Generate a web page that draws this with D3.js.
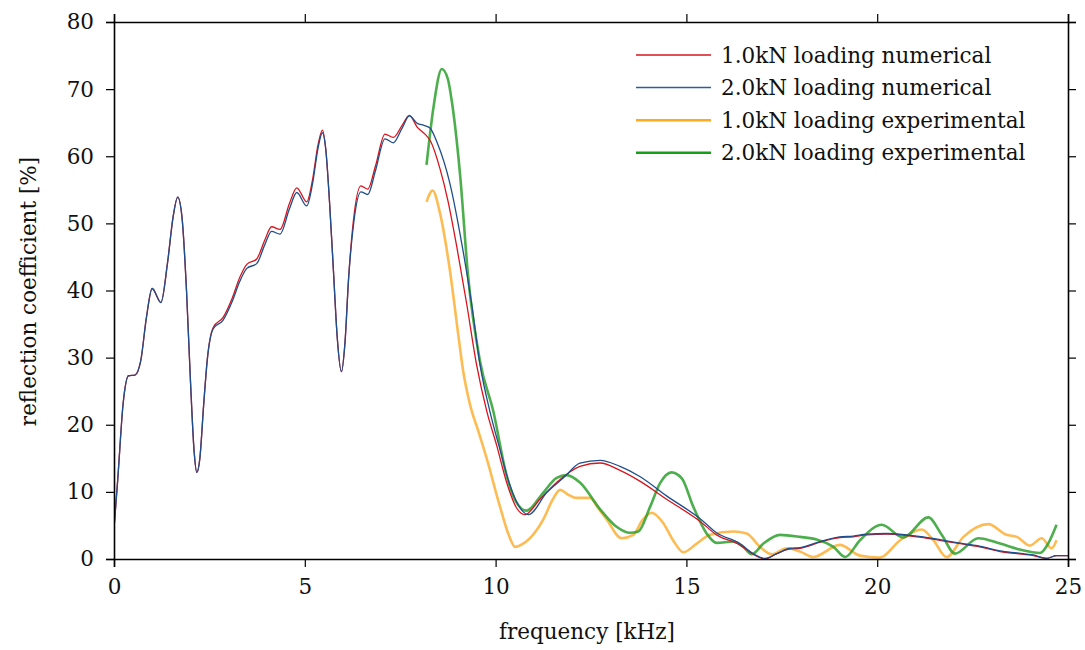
<!DOCTYPE html>
<html><head><meta charset="utf-8">
<script src="https://cdn.jsdelivr.net/npm/d3@7"></script>
<style>body{margin:0;background:#fff}svg{display:block}</style>
</head><body>
<svg id="chart" width="1085" height="650"></svg>
<script>
const xTicks = [0, 5, 10, 15, 20, 25];
const yTicks = [0, 10, 20, 30, 40, 50, 60, 70, 80];
const seriesNames = ["1.0kN loading numerical", "2.0kN loading numerical", "1.0kN loading experimental", "2.0kN loading experimental"];

const num10 = [[0,4.5],[0.1,12],[0.24,23.2],[0.38,27.3],[0.55,27.4],[0.7,29.5],[0.85,36],[1.0,40.3],[1.23,38.2],[1.4,44],[1.55,51],[1.67,53.9],[1.78,51],[1.9,40],[2.0,27],[2.1,16],[2.17,12.9],[2.25,15],[2.35,23],[2.45,30],[2.6,34.5],[2.86,36],[3.1,38.9],[3.3,42],[3.48,43.9],[3.74,44.7],[3.95,47.5],[4.13,49.5],[4.35,49.1],[4.6,53],[4.79,55.3],[5.05,53.2],[5.2,56.4],[5.35,61.8],[5.46,63.9],[5.55,61],[5.65,53],[5.75,43],[5.85,33],[5.96,27.9],[6.05,32],[6.15,42],[6.27,50.2],[6.47,55.6],[6.65,55.1],[6.85,58.5],[7.1,63.3],[7.32,62.8],[7.55,64.6],[7.74,66.1],[7.95,64.3],[8.15,63.3],[8.3,62.2],[8.54,58.2],[8.75,53.4],[8.98,46.6],[9.24,38.1],[9.5,29.0],[9.77,22.0],[10.03,16.9],[10.29,11.4],[10.55,7.6],[10.77,6.6],[11.16,8.9],[11.6,11.4],[12.21,13.8],[12.74,14.3],[13.26,13.2],[13.78,11.6],[14.48,8.9],[15.36,5.6],[15.79,3.6],[16.4,2.1],[16.75,0.7],[17.06,0.0],[17.37,0.8],[17.72,1.5],[17.98,1.6],[18.5,2.5],[19.02,3.2],[19.37,3.3],[19.72,3.6],[20.25,3.7],[20.77,3.5],[21.21,3.2],[21.82,2.6],[22.26,2.2],[22.78,1.7],[23.22,1.1],[23.66,0.8],[24.09,0.5],[24.44,0.1],[24.7,0.5],[25,0.5]];

const num20 = [[0,4.5],[0.1,12],[0.24,23.2],[0.38,27.3],[0.55,27.4],[0.7,29.5],[0.85,36],[1.0,40.3],[1.23,38.2],[1.4,44],[1.55,51],[1.67,53.9],[1.78,51],[1.9,40],[2.0,27],[2.1,16],[2.17,12.9],[2.25,15],[2.35,23],[2.45,30],[2.6,34.3],[2.86,35.6],[3.1,38.4],[3.3,41.4],[3.48,43.3],[3.74,44.0],[3.95,46.8],[4.13,48.8],[4.35,48.4],[4.6,52.2],[4.79,54.6],[5.05,52.6],[5.2,55.8],[5.35,61.3],[5.46,63.5],[5.55,61],[5.65,53],[5.75,43],[5.85,33],[5.96,27.9],[6.05,32],[6.15,42],[6.27,49.5],[6.47,54.7],[6.65,54.3],[6.85,57.8],[7.1,62.6],[7.32,62.0],[7.55,64.2],[7.74,66.0],[7.95,64.9],[8.12,64.6],[8.28,64.2],[8.47,62.0],[8.8,56.0],[9.11,47.1],[9.37,38.1],[9.59,29.0],[9.85,22.0],[10.11,16.4],[10.38,10.9],[10.64,7.6],[10.86,6.6],[11.34,9.9],[11.8,12.2],[12.21,14.3],[12.74,14.7],[13.26,13.8],[13.78,12.3],[14.48,9.4],[15.36,6.0],[15.79,3.9],[16.4,2.3],[16.75,0.8],[17.06,0.1],[17.37,0.8],[17.72,1.6],[17.98,1.7],[18.5,2.6],[19.02,3.3],[19.37,3.4],[19.72,3.7],[20.25,3.8],[20.77,3.6],[21.21,3.3],[21.82,2.7],[22.26,2.3],[22.78,1.8],[23.22,1.2],[23.66,0.9],[24.09,0.6],[24.44,0.1],[24.7,0.5],[25,0.5]];

const exp10 = [[8.19,53.2],[8.35,54.9],[8.54,51.6],[8.8,43.1],[9.02,33.5],[9.15,28],[9.33,23.0],[9.55,19],[9.77,14.9],[10.11,7.9],[10.35,3.5],[10.51,1.8],[10.7,2.2],[10.9,3.1],[11.25,5.9],[11.5,8.9],[11.69,10.3],[11.9,9.6],[12.12,9.1],[12.47,9.1],[12.7,7.5],[12.91,5.9],[13.3,3.1],[13.61,3.6],[13.85,5.8],[14.09,6.9],[14.4,5.3],[14.65,2.8],[14.92,1.0],[15.27,2.3],[15.62,3.6],[16.23,4.1],[16.58,3.8],[16.93,1.8],[17.23,0.7],[17.63,1.6],[17.98,1.1],[18.33,0.3],[19.02,2.1],[19.55,0.5],[20.07,0.2],[20.6,2.8],[21.17,4.4],[21.47,2.8],[21.82,0.3],[22.26,3.3],[22.91,5.2],[23.39,3.6],[23.66,3.3],[24.0,2.0],[24.31,3.1],[24.57,1.6],[24.7,2.8]];

const exp20 = [[8.19,58.7],[8.37,67.2],[8.59,73.0],[8.75,71.5],[8.85,68.3],[9.07,57.2],[9.28,42.1],[9.59,29.5],[9.94,22.0],[10.29,12.4],[10.55,8.4],[10.81,7.2],[11.25,9.9],[11.6,12.1],[11.86,12.5],[12.21,11.4],[12.74,7.4],[13.17,4.8],[13.52,3.9],[13.74,4.1],[14.05,7.8],[14.31,11.3],[14.61,12.9],[14.88,12.0],[15.18,7.8],[15.53,3.8],[15.79,2.4],[16.23,2.6],[16.49,1.8],[16.71,0.7],[17.02,2.3],[17.45,3.6],[17.98,3.3],[18.41,2.9],[18.85,1.8],[19.16,0.3],[19.55,2.8],[20.12,5.1],[20.68,3.2],[21.34,6.2],[21.69,3.6],[22.04,0.8],[22.65,3.1],[23.22,2.3],[23.74,1.4],[24.27,0.9],[24.48,2.3],[24.7,5.1]];

const svg = d3.select("#chart");
const L = 114, R = 1068, T = 22, B = 559;
const x = d3.scaleLinear().domain([0, 25]).range([L, R]);
const y = d3.scaleLinear().domain([0, 80]).range([B, T]);
const font = "'DejaVu Serif', serif";
const fs = 21.5;

svg.append("defs").append("clipPath").attr("id", "clip")
  .append("rect").attr("x", L).attr("y", T).attr("width", R - L).attr("height", B - T);

const line = d3.line().x(d => x(d[0])).y(d => y(d[1])).curve(d3.curveMonotoneX);

const series = [
  {data: exp10, color: "#fdb035", width: 2.6, op: 0.85},
  {data: exp20, color: "#2ea02e", width: 2.6, op: 0.85},
  {data: num10, color: "#d8141c", width: 1.3, op: 1},
  {data: num20, color: "#1f4e8c", width: 1.3, op: 1}
];
const g = svg.append("g").attr("clip-path", "url(#clip)");
series.forEach(s => {
  g.append("path").attr("d", line(s.data)).attr("fill", "none")
    .attr("stroke", s.color).attr("stroke-width", s.width).attr("stroke-opacity", s.op)
    .attr("stroke-linejoin", "round");
});

// axes
const axB = svg.append("g").attr("transform", `translate(0,${B})`)
  .call(d3.axisBottom(x).tickValues(xTicks).tickSize(8).tickPadding(12).tickFormat(d3.format("d")));
const axT = svg.append("g").attr("transform", `translate(0,${T})`)
  .call(d3.axisTop(x).tickValues(xTicks).tickSize(8).tickFormat(""));
const axL = svg.append("g").attr("transform", `translate(${L},0)`)
  .call(d3.axisLeft(y).tickValues(yTicks).tickSize(8).tickPadding(12).tickFormat(d3.format("d")));
const axR = svg.append("g").attr("transform", `translate(${R},0)`)
  .call(d3.axisRight(y).tickValues(yTicks).tickSize(8).tickFormat(""));
[axB, axT, axL, axR].forEach(a => {
  a.select(".domain").attr("stroke", "#000").attr("stroke-width", 1.6);
  a.selectAll(".tick line").attr("stroke", "#000").attr("stroke-width", 1.2);
  a.selectAll("text").attr("font-family", font).attr("font-size", fs).attr("fill", "#111");
});

svg.append("text").attr("x", (L + R) / 2 - 4).attr("y", 639).attr("text-anchor", "middle")
  .attr("font-family", font).attr("font-size", fs).attr("fill", "#111").text("frequency [kHz]");
svg.append("text").attr("transform", `translate(36,${(T + B) / 2 + 1}) rotate(-90)`).attr("text-anchor", "middle")
  .attr("font-family", font).attr("font-size", fs).attr("fill", "#111").text("reflection coefficient [%]");

// legend
const legColors = ["#d8141c", "#2c5e9a", "#fdaa1e", "#16a016"];
const legWidths = [1.3, 1.5, 2.6, 2.6];
const leg = svg.append("g");
seriesNames.forEach((n, i) => {
  const yy = 55 + i * 32.6;
  leg.append("line").attr("x1", 636).attr("x2", 711).attr("y1", yy).attr("y2", yy)
    .attr("stroke", legColors[i]).attr("stroke-width", legWidths[i]);
  leg.append("text").attr("x", 721).attr("y", yy + 7.5).attr("font-family", font).attr("font-size", fs)
    .attr("fill", "#111").text(n);
});
</script>
</body></html>
